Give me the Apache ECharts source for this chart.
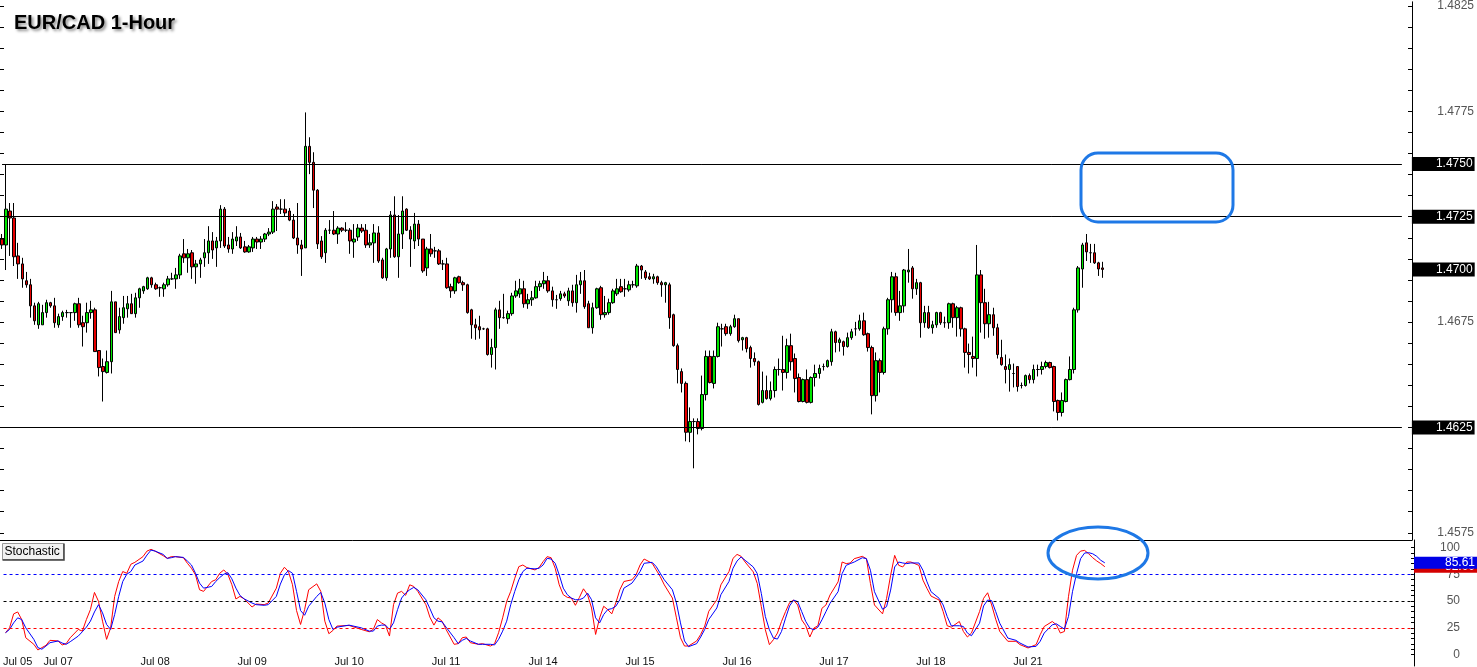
<!DOCTYPE html>
<html><head><meta charset="utf-8">
<script src="https://cdn.jsdelivr.net/npm/echarts@6/dist/echarts.min.js"></script>
<style>html,body{margin:0;padding:0;background:#fff;}#chart{width:1477px;height:667px;}</style>
</head><body><div id="chart"></div>
<script>
const opens = [
1.47144,1.47116,1.47277,1.47244,1.47064,1.47026,1.46946,1.46927,1.46827,1.46737,
1.46737,1.46795,1.46842,1.46827,1.46737,1.46776,1.46795,1.46795,1.46795,1.46837,
1.46747,1.46747,1.46795,1.46808,1.46615,1.46539,1.46511,1.46562,1.46846,1.46713,
1.46771,1.46813,1.46837,1.46790,1.46865,1.46898,1.46908,1.46960,1.46927,1.46913,
1.46908,1.46927,1.46955,1.46955,1.46974,1.47074,1.47055,1.47079,1.47012,1.47026,
1.47055,1.47079,1.47135,1.47102,1.47135,1.47286,1.47116,1.47097,1.47135,1.47154,
1.47107,1.47083,1.47102,1.47144,1.47130,1.47144,1.47168,1.47177,1.47296,1.47286,
1.47286,1.47277,1.47234,1.47149,1.47116,1.47102,1.47584,1.47508,1.47376,1.47135,
1.47079,1.47186,1.47186,1.47168,1.47196,1.47186,1.47186,1.47130,1.47154,1.47196,
1.47186,1.47116,1.47126,1.47173,1.47045,1.46960,1.47097,1.47258,1.47060,1.47168,
1.47286,1.47186,1.47135,1.47215,1.47144,1.47007,1.47097,1.47088,1.47088,1.47026,
1.47026,1.46918,1.46898,1.46965,1.46937,1.46927,1.46808,1.46737,1.46728,1.46718,
1.46718,1.46596,1.46629,1.46808,1.46771,1.46766,1.46790,1.46874,1.46884,1.46908,
1.46837,1.46856,1.46865,1.46918,1.46932,1.46946,1.46898,1.46856,1.46861,1.46884,
1.46851,1.46898,1.46842,1.46927,1.46946,1.46837,1.46723,1.46818,1.46913,1.46785,
1.46795,1.46842,1.46884,1.46918,1.46908,1.46903,1.46927,1.46922,1.47016,1.46988,
1.46965,1.46955,1.46965,1.46937,1.46927,1.46927,1.46785,1.46638,1.46515,1.46459,
1.46227,1.46278,1.46278,1.46245,1.46406,1.46587,1.46459,1.46587,1.46718,1.46728,
1.46695,1.46728,1.46766,1.46666,1.46676,1.46629,1.46577,1.46562,1.46369,1.46425,
1.46387,1.46425,1.46525,1.46525,1.46511,1.46638,1.46577,1.46487,1.46373,1.46477,
1.46369,1.46487,1.46506,1.46539,1.46539,1.46562,1.46704,1.46653,1.46657,1.46634,
1.46676,1.46718,1.46718,1.46756,1.46695,1.46629,1.46401,1.46567,1.46511,1.46718,
1.46856,1.46965,1.46795,1.46827,1.46988,1.47007,1.46908,1.46937,1.46747,1.46795,
1.46723,1.46737,1.46795,1.46747,1.46747,1.46837,1.46771,1.46818,1.46718,1.46606,
1.46587,1.46577,1.46974,1.46842,1.46742,1.46785,1.46723,1.46582,1.46539,1.46525,
1.46506,1.46539,1.46449,1.46449,1.46496,1.46477,1.46525,1.46525,1.46539,1.46558,
1.46539,1.46378,1.46321,1.46373,1.46477,1.46525,1.46808,1.47002,1.47126,1.47079,
1.47079,1.47031,1.47007];
const closes = [
1.47116,1.47286,1.47244,1.47060,1.47026,1.46955,1.46927,1.46827,1.46756,1.46837,
1.46795,1.46842,1.46827,1.46747,1.46776,1.46795,1.46795,1.46795,1.46837,1.46737,
1.46728,1.46795,1.46808,1.46610,1.46534,1.46515,1.46562,1.46846,1.46700,1.46776,
1.46818,1.46837,1.46790,1.46865,1.46908,1.46918,1.46960,1.46927,1.46908,1.46913,
1.46927,1.46955,1.46955,1.46974,1.47064,1.47055,1.47074,1.47012,1.47026,1.47045,
1.47079,1.47135,1.47092,1.47135,1.47286,1.47111,1.47097,1.47144,1.47154,1.47102,
1.47083,1.47107,1.47144,1.47130,1.47144,1.47168,1.47177,1.47286,1.47286,1.47286,
1.47268,1.47234,1.47149,1.47116,1.47097,1.47584,1.47508,1.47376,1.47121,1.47060,
1.47186,1.47186,1.47168,1.47196,1.47186,1.47186,1.47135,1.47144,1.47196,1.47182,
1.47116,1.47126,1.47173,1.47040,1.46960,1.47097,1.47258,1.47060,1.47168,1.47277,
1.47186,1.47144,1.47215,1.47144,1.46993,1.47097,1.47074,1.47088,1.47026,1.47026,
1.46913,1.46898,1.46960,1.46937,1.46927,1.46795,1.46737,1.46723,1.46713,1.46718,
1.46596,1.46629,1.46808,1.46771,1.46771,1.46790,1.46874,1.46898,1.46908,1.46837,
1.46856,1.46865,1.46918,1.46932,1.46946,1.46898,1.46856,1.46856,1.46884,1.46874,
1.46898,1.46842,1.46927,1.46946,1.46823,1.46723,1.46818,1.46908,1.46785,1.46795,
1.46842,1.46898,1.46908,1.46894,1.46908,1.46927,1.46927,1.47016,1.46997,1.46960,
1.46955,1.46965,1.46937,1.46927,1.46937,1.46771,1.46638,1.46525,1.46459,1.46227,
1.46278,1.46278,1.46245,1.46406,1.46587,1.46463,1.46587,1.46728,1.46718,1.46695,
1.46728,1.46766,1.46662,1.46676,1.46624,1.46577,1.46562,1.46359,1.46425,1.46387,
1.46425,1.46525,1.46525,1.46511,1.46638,1.46562,1.46482,1.46373,1.46477,1.46369,
1.46487,1.46506,1.46530,1.46539,1.46567,1.46704,1.46653,1.46666,1.46634,1.46676,
1.46704,1.46718,1.46756,1.46690,1.46629,1.46401,1.46567,1.46511,1.46718,1.46856,
1.46965,1.46795,1.46827,1.46997,1.46997,1.46908,1.46937,1.46747,1.46795,1.46723,
1.46737,1.46795,1.46747,1.46747,1.46837,1.46771,1.46818,1.46718,1.46606,1.46596,
1.46577,1.46974,1.46842,1.46742,1.46785,1.46723,1.46596,1.46548,1.46525,1.46548,
1.46506,1.46444,1.46449,1.46496,1.46477,1.46525,1.46525,1.46539,1.46558,1.46534,
1.46373,1.46321,1.46378,1.46477,1.46525,1.46808,1.47007,1.47116,1.47083,1.47079,
1.47031,1.47002,1.47000];
const lows = [
1.47097,1.46997,1.47064,1.47016,1.46955,1.46913,1.46913,1.46771,1.46737,1.46718,
1.46737,1.46771,1.46818,1.46723,1.46723,1.46756,1.46771,1.46723,1.46756,1.46723,
1.46634,1.46700,1.46766,1.46610,1.46492,1.46373,1.46506,1.46506,1.46700,1.46695,
1.46742,1.46771,1.46790,1.46771,1.46818,1.46884,1.46903,1.46913,1.46903,1.46870,
1.46870,1.46918,1.46950,1.46908,1.46955,1.47031,1.46984,1.46955,1.46932,1.46960,
1.47012,1.47026,1.47050,1.47012,1.47102,1.47102,1.47079,1.47074,1.47111,1.47097,
1.47079,1.47079,1.47083,1.47097,1.47097,1.47130,1.47158,1.47168,1.47182,1.47263,
1.47253,1.47229,1.47144,1.47074,1.46969,1.47102,1.47452,1.47291,1.47097,1.47050,
1.47031,1.47168,1.47163,1.47121,1.47177,1.47177,1.47074,1.47055,1.47135,1.47173,
1.47102,1.47102,1.47031,1.47031,1.46955,1.46946,1.47055,1.47055,1.46960,1.47097,
1.47182,1.47012,1.47097,1.47111,1.46984,1.46969,1.47060,1.47055,1.47021,1.46997,
1.46908,1.46865,1.46884,1.46932,1.46898,1.46790,1.46671,1.46666,1.46671,1.46713,
1.46591,1.46534,1.46525,1.46718,1.46766,1.46742,1.46780,1.46865,1.46865,1.46818,
1.46813,1.46827,1.46861,1.46898,1.46908,1.46889,1.46823,1.46813,1.46851,1.46865,
1.46827,1.46823,1.46795,1.46884,1.46813,1.46723,1.46695,1.46813,1.46761,1.46771,
1.46785,1.46837,1.46874,1.46889,1.46870,1.46894,1.46913,1.46913,1.46955,1.46950,
1.46950,1.46932,1.46927,1.46870,1.46842,1.46718,1.46633,1.46459,1.46416,1.46184,
1.46180,1.46056,1.46217,1.46236,1.46378,1.46459,1.46435,1.46582,1.46634,1.46685,
1.46685,1.46723,1.46653,1.46615,1.46606,1.46534,1.46543,1.46354,1.46364,1.46382,
1.46378,1.46392,1.46496,1.46425,1.46482,1.46520,1.46416,1.46369,1.46369,1.46364,
1.46364,1.46444,1.46482,1.46520,1.46534,1.46543,1.46606,1.46610,1.46591,1.46629,
1.46666,1.46685,1.46709,1.46685,1.46610,1.46312,1.46373,1.46416,1.46501,1.46690,
1.46795,1.46780,1.46756,1.46795,1.46937,1.46861,1.46879,1.46676,1.46723,1.46718,
1.46695,1.46723,1.46737,1.46723,1.46718,1.46723,1.46681,1.46681,1.46534,1.46506,
1.46534,1.46492,1.46700,1.46671,1.46676,1.46685,1.46577,1.46543,1.46459,1.46420,
1.46440,1.46420,1.46435,1.46444,1.46459,1.46459,1.46492,1.46501,1.46530,1.46530,
1.46326,1.46283,1.46302,1.46369,1.46473,1.46506,1.46795,1.46913,1.47040,1.47031,
1.47026,1.46969,1.46960];
const highs = [
1.47168,1.47499,1.47315,1.47315,1.47126,1.47055,1.46988,1.46955,1.46842,1.46846,
1.46832,1.46856,1.46846,1.46865,1.46790,1.46804,1.46808,1.46795,1.46842,1.46865,
1.46780,1.46842,1.46851,1.46818,1.46615,1.46577,1.46615,1.46898,1.46846,1.46818,
1.46874,1.46874,1.46884,1.46889,1.46913,1.46922,1.46965,1.46965,1.46937,1.46918,
1.46937,1.46969,1.46984,1.47007,1.47074,1.47144,1.47097,1.47092,1.47045,1.47055,
1.47144,1.47205,1.47177,1.47154,1.47305,1.47296,1.47154,1.47177,1.47205,1.47173,
1.47135,1.47116,1.47154,1.47154,1.47158,1.47173,1.47196,1.47324,1.47310,1.47333,
1.47333,1.47291,1.47263,1.47315,1.47140,1.47745,1.47627,1.47556,1.47381,1.47158,
1.47196,1.47234,1.47277,1.47205,1.47200,1.47224,1.47196,1.47215,1.47215,1.47215,
1.47215,1.47168,1.47215,1.47205,1.47055,1.47102,1.47277,1.47347,1.47258,1.47347,
1.47290,1.47205,1.47268,1.47234,1.47144,1.47107,1.47168,1.47107,1.47097,1.47045,
1.47055,1.46932,1.46965,1.46970,1.46946,1.46932,1.46813,1.46766,1.46780,1.46723,
1.46723,1.46671,1.46818,1.46851,1.46884,1.46804,1.46889,1.46946,1.46955,1.46946,
1.46884,1.46898,1.46946,1.46946,1.46988,1.46969,1.46918,1.46879,1.46898,1.46894,
1.46913,1.46927,1.46974,1.46988,1.46997,1.46851,1.46842,1.46913,1.46922,1.46874,
1.46861,1.46908,1.46955,1.46955,1.46955,1.46946,1.46946,1.47026,1.47021,1.46997,
1.46984,1.46979,1.46970,1.46946,1.46941,1.46937,1.46790,1.46648,1.46530,1.46468,
1.46345,1.46293,1.46293,1.46496,1.46615,1.46615,1.46615,1.46747,1.46742,1.46742,
1.46737,1.46785,1.46766,1.46680,1.46680,1.46638,1.46606,1.46567,1.46515,1.46496,
1.46468,1.46539,1.46577,1.46685,1.46671,1.46695,1.46601,1.46506,1.46482,1.46525,
1.46492,1.46548,1.46548,1.46553,1.46572,1.46718,1.46709,1.46676,1.46662,1.46700,
1.46718,1.46751,1.46785,1.46795,1.46700,1.46638,1.46606,1.46577,1.46728,1.46865,
1.46988,1.46984,1.46898,1.47002,1.47097,1.47016,1.46955,1.46941,1.46827,1.46827,
1.46756,1.46799,1.46799,1.46776,1.46842,1.46842,1.46827,1.46823,1.46723,1.46648,
1.46681,1.47116,1.46997,1.46908,1.46846,1.46818,1.46742,1.46666,1.46596,1.46577,
1.46553,1.46539,1.46463,1.46501,1.46506,1.46548,1.46548,1.46562,1.46567,1.46562,
1.46543,1.46382,1.46416,1.46482,1.46587,1.46818,1.47016,1.47126,1.47168,1.47121,
1.47121,1.47036,1.47036];

// Stochastic %K (red) and %D (blue), as [candle index, value]
const stochK = [[0,20.4],[1,25.0],[2,38.0],[3,39.8],[4,32.7],[5,15.7],[7,9.6],[8,4.3],[9,6.5],[10,8.6],[11,13.3],[13,12.7],[14,9.0],[15,10.2],[16,15.7],[18,23.5],[19,21.9],[20,32.7],[21,42.0],[22,58.0],[23,49.7],[24,31.2],[25,14.2],[26,25.0],[27,54.3],[28,68.2],[29,77.5],[30,75.9],[31,84.3],[32,86.1],[34,91.4],[35,96.6],[36,98.2],[37,96.6],[39,92.3],[40,89.8],[41,91.4],[42,91.4],[44,90.4],[45,85.2],[46,80.6],[47,74.4],[48,60.5],[49,59.0],[51,68.2],[52,69.8],[53,75.9],[54,79.0],[55,75.0],[56,65.2],[57,51.9],[58,54.3],[59,52.1],[61,44.4],[62,47.2],[64,46.6],[65,48.1],[67,62.0],[68,75.9],[69,81.5],[70,77.5],[71,65.2],[72,41.1],[73,28.1],[74,42.0],[75,60.5],[77,66.0],[78,59.0],[79,31.2],[80,19.5],[81,22.5],[82,26.6],[85,27.2],[88,23.5],[90,21.3],[91,23.5],[92,32.7],[93,29.6],[94,27.5],[95,17.3],[96,46.6],[97,57.4],[98,59.0],[99,55.3],[100,65.1],[101,63.6],[102,59.0],[104,46.6],[105,34.9],[106,27.5],[107,34.3],[108,31.2],[109,23.5],[111,9.6],[112,10.2],[113,15.7],[114,16.4],[115,11.1],[117,9.6],[118,10.2],[120,8.0],[121,10.2],[122,20.4],[123,34.3],[124,49.7],[125,59.0],[126,71.3],[127,82.1],[128,83.6],[129,81.2],[131,79.0],[132,81.2],[133,86.7],[134,91.4],[135,90.4],[136,80.6],[137,65.1],[138,55.9],[139,53.4],[140,52.8],[141,46.0],[142,53.4],[143,61.4],[144,55.9],[145,43.5],[146,18.8],[147,34.3],[148,45.1],[149,42.0],[150,38.0],[151,48.2],[152,60.5],[153,68.2],[155,69.8],[156,74.4],[157,83.6],[158,89.2],[160,85.2],[161,79.0],[162,72.8],[163,65.1],[165,52.8],[166,34.3],[167,15.7],[168,8.0],[169,8.0],[171,12.7],[172,18.8],[173,26.6],[174,40.4],[176,51.2],[177,65.1],[179,77.5],[180,89.8],[181,93.5],[182,91.7],[183,86.4],[185,77.2],[186,66.4],[187,44.8],[188,23.2],[189,9.3],[190,13.9],[191,20.1],[192,30.9],[193,40.1],[194,48.5],[195,50.9],[196,46.3],[197,32.4],[198,26.9],[199,16.4],[200,24.7],[201,26.9],[202,43.2],[203,46.3],[204,55.6],[206,67.9],[207,86.4],[208,84.9],[209,85.5],[210,89.5],[212,91.7],[213,89.5],[214,66.4],[215,46.3],[217,38.0],[218,52.5],[219,74.1],[220,92.6],[221,83.3],[222,81.8],[223,86.4],[224,86.4],[226,83.3],[227,69.5],[228,61.7],[229,54.6],[231,50.9],[232,40.1],[233,26.9],[234,25.6],[236,30.9],[237,21.6],[238,16.4],[239,20.1],[241,40.1],[242,52.5],[243,57.7],[244,46.3],[245,33.0],[246,21.6],[248,12.4],[250,12.4],[251,9.3],[253,6.2],[255,9.3],[256,18.5],[257,26.2],[259,30.9],[260,27.8],[261,20.1],[262,21.6],[263,54.0],[264,78.7],[265,92.6],[266,96.6],[267,97.2],[268,94.1],[269,90.4],[270,87.4],[271,84.9],[272,82.0]];
const stochD = [[0,20.4],[1,23.5],[2,29.6],[3,34.3],[4,32.7],[5,25.0],[7,14.2],[8,6.5],[9,5.0],[10,8.0],[11,11.1],[13,12.7],[14,10.8],[15,9.6],[16,12.0],[18,17.3],[19,21.3],[20,25.6],[21,31.2],[22,39.8],[23,46.6],[24,38.9],[25,28.1],[26,23.5],[27,37.4],[28,54.3],[29,68.2],[30,75.0],[31,77.5],[32,83.6],[34,87.3],[35,92.9],[36,97.5],[37,96.6],[39,93.5],[40,89.8],[41,90.4],[42,91.4],[44,90.7],[45,87.3],[46,83.6],[47,75.9],[48,66.7],[49,62.0],[51,63.6],[52,68.2],[53,71.9],[54,75.0],[55,76.5],[56,70.7],[57,62.0],[58,55.2],[59,52.1],[61,48.1],[62,46.6],[64,46.0],[65,46.6],[67,54.3],[68,65.8],[69,74.4],[70,78.4],[71,75.9],[72,59.0],[73,41.1],[74,36.7],[75,45.1],[77,54.3],[78,58.0],[79,48.1],[80,32.7],[81,23.5],[82,25.6],[85,27.5],[88,25.0],[90,21.9],[91,21.9],[92,26.6],[93,27.5],[94,27.5],[95,23.5],[96,29.6],[97,42.0],[98,52.8],[99,57.4],[100,60.5],[101,62.7],[102,60.5],[104,51.2],[105,42.9],[106,34.3],[107,31.2],[108,30.6],[109,25.6],[111,15.7],[112,10.2],[113,13.3],[114,15.1],[115,12.7],[117,9.6],[118,9.6],[120,9.6],[121,9.0],[122,14.2],[123,21.9],[124,31.2],[125,46.6],[126,59.0],[127,69.8],[128,77.5],[129,80.6],[131,80.0],[132,80.6],[133,83.6],[134,89.8],[135,89.2],[136,85.2],[137,74.4],[138,62.0],[139,55.9],[140,52.8],[141,51.2],[142,51.2],[143,52.8],[144,57.4],[145,51.2],[146,34.3],[147,29.6],[148,37.4],[149,42.0],[150,42.9],[151,45.1],[152,51.2],[153,62.0],[155,66.7],[156,71.9],[157,77.5],[158,85.2],[160,86.1],[161,82.1],[162,75.9],[163,69.8],[165,60.5],[166,48.2],[167,29.6],[168,12.7],[169,7.4],[171,10.2],[172,16.4],[173,23.5],[174,32.7],[176,43.5],[177,55.9],[179,68.2],[180,80.6],[181,87.3],[182,91.1],[183,88.0],[185,81.8],[186,75.6],[187,57.1],[188,35.5],[189,23.2],[190,15.4],[191,14.5],[192,21.6],[193,34.0],[194,45.4],[195,50.9],[196,49.4],[197,40.1],[198,30.9],[199,24.7],[200,23.2],[201,25.6],[202,32.4],[203,40.1],[204,47.8],[206,58.7],[207,75.6],[208,83.3],[209,84.9],[210,86.4],[212,90.4],[213,89.5],[214,78.7],[215,58.7],[217,42.3],[218,44.8],[219,60.2],[220,81.8],[221,86.4],[222,85.5],[223,84.9],[224,85.5],[226,85.5],[227,78.7],[228,67.9],[229,58.7],[231,52.5],[232,46.3],[233,35.5],[234,26.9],[236,26.9],[237,26.2],[238,20.1],[239,17.6],[241,29.3],[242,45.4],[243,50.9],[244,50.3],[245,40.1],[246,29.3],[248,15.4],[250,13.3],[251,10.8],[253,7.1],[255,7.7],[256,12.4],[257,20.1],[259,27.8],[260,28.7],[261,26.2],[262,23.8],[263,35.5],[264,58.7],[265,75.6],[266,89.5],[267,94.8],[268,95.1],[269,94.1],[270,91.7],[271,88.0],[272,85.61]];

const dayLabels = ['Jul 05','Jul 07','Jul 08','Jul 09','Jul 10','Jul 11','Jul 14','Jul 15','Jul 16','Jul 17','Jul 18','Jul 21'];
const dayLabelIdx = [3,13,37,61,85,109,133,157,181,205,229,253];
const levels = [1.4750, 1.4725, 1.4625];
const priceLabels = [1.4575, 1.4625, 1.4675, 1.4725, 1.4775, 1.4825];
const stochLevels = [75, 50, 25];
const stochLabels = [0, 25, 50, 75, 100];

const FONT = "'Liberation Sans', Arial, sans-serif";
const TRANSPARENT = 'rgba(0,0,0,0)';
const TOTAL_SLOTS = 349;
const LEVEL_END_SLOT = 346;
const categories = new Array(TOTAL_SLOTS).fill('');
dayLabelIdx.forEach((ix, k) => { categories[ix] = dayLabels[k]; });
const priceTicks = [];
for (let k = 0; k <= 25; k++) priceTicks.push(+(1.4575 + k * 0.001).toFixed(4));
const stochTicks = [];
for (let k = 0; k <= 20; k++) stochTicks.push(k * 5);

const candles = opens.map((o, i) => [o, closes[i], lows[i], highs[i]]);
const lastClose = closes[closes.length - 1];
const lastK = stochK[stochK.length - 1][1];
const lastD = stochD[stochD.length - 1][1];

const boxLabel = (bg, padLeft, lh, dist) => ({
  show: true, position: 'end', distance: dist || 0, backgroundColor: bg, color: '#fff', opacity: 1,
  fontSize: 12, fontFamily: FONT, lineHeight: lh, padding: [0, 2, 0, padLeft],
  formatter: p => p.name
});

const chart = echarts.init(document.getElementById('chart'), null, {renderer: 'canvas'});
chart.setOption({
  animation: false,
  backgroundColor: '#fff',
  title: {
    text: 'EUR/CAD 1-Hour', left: 14, top: 13, padding: 0,
    textStyle: { fontFamily: FONT, fontWeight: 'bold', fontSize: 20, color: '#000',
      textShadowColor: 'rgba(0,0,0,0.45)', textShadowBlur: 3, textShadowOffsetX: 2, textShadowOffsetY: 2 }
  },
  grid: [
    { left: 0, right: 63, top: 0, height: 540 },
    { left: 0, right: 63, top: 540, height: 127 }
  ],
  xAxis: [
    { type: 'category', gridIndex: 0, data: categories, boundaryGap: true,
      axisLine: { show: true, lineStyle: { color: '#000', width: 1 } },
      axisTick: { show: false }, axisLabel: { show: false }, splitLine: { show: false } },
    { type: 'category', gridIndex: 1, data: categories, boundaryGap: true,
      axisLine: { show: false }, axisTick: { show: false }, splitLine: { show: false },
      axisLabel: { inside: true, margin: -1, interval: (i, v) => v !== '', color: '#111',
        fontSize: 11, fontFamily: FONT } }
  ],
  yAxis: [
    { type: 'value', gridIndex: 0, position: 'right', min: 1.457158, max: 1.4827,
      axisLine: { show: true, lineStyle: { color: '#000' } },
      axisTick: { show: true, inside: true, length: 4, customValues: priceTicks, lineStyle: { color: '#000' } },
      axisLabel: { customValues: priceLabels, formatter: v => v.toFixed(4), color: '#555',
        fontSize: 12, fontFamily: FONT, align: 'right', margin: 62 },
      splitLine: { show: false } },
    { type: 'value', gridIndex: 0, position: 'left', min: 1.457158, max: 1.4827,
      axisLine: { show: false },
      axisTick: { show: true, inside: true, length: 4, customValues: priceTicks, lineStyle: { color: '#000' } },
      axisLabel: { show: false }, splitLine: { show: false } },
    { type: 'value', gridIndex: 1, position: 'right', min: -10.65, max: 106.94,
      axisLine: { show: true, lineStyle: { color: '#000' } },
      axisTick: { show: true, inside: true, length: 3, customValues: stochTicks, lineStyle: { color: '#000' } },
      axisLabel: { customValues: stochLabels, color: '#555', fontSize: 12, fontFamily: FONT,
        align: 'right', margin: 46 },
      splitLine: { show: false } }
  ],
  series: [
    { type: 'candlestick', xAxisIndex: 0, yAxisIndex: 0, data: candles, barWidth: 3,
      itemStyle: { color: '#00e600', color0: '#e60000', borderColor: '#000', borderColor0: '#000',
        borderColorDoji: '#000', borderWidth: 1 },
      markLine: { symbol: ['none', 'none'], silent: true, animation: false, precision: 5,
        lineStyle: { color: '#000', width: 1, type: 'solid' },
        label: boxLabel('#000', 24, 14, 10),
        emphasis: { disabled: true },
        data: levels.map(v => [{ name: v.toFixed(4), coord: [0, v] }, { coord: [LEVEL_END_SLOT, v] }]) } },
    { type: 'line', xAxisIndex: 0, yAxisIndex: 0, data: [], symbol: 'none',
      markLine: { symbol: ['none', 'none'], silent: true, animation: false, precision: 5,
        lineStyle: { color: TRANSPARENT, width: 1, type: 'solid' }, emphasis: { disabled: true },
        label: boxLabel('#000', 24, 14),
        data: [{ name: lastClose.toFixed(4), yAxis: lastClose }] } },
    { type: 'line', xAxisIndex: 1, yAxisIndex: 2, data: stochK, symbol: 'none',
      lineStyle: { color: '#ff0000', width: 1 }, z: 3,
      markLine: { symbol: ['none', 'none'], silent: true, animation: false, precision: 2,
        lineStyle: { width: 1, type: [3, 3] }, label: { show: false }, emphasis: { disabled: true },
        data: stochLevels.map((v, k) => ({ yAxis: v, lineStyle: { color: ['#0000ff', '#000000', '#ff0000'][k] } })) } },
    { type: 'line', xAxisIndex: 1, yAxisIndex: 2, data: stochD, symbol: 'none',
      lineStyle: { color: '#0000ff', width: 1 }, z: 4 },
    { type: 'line', xAxisIndex: 1, yAxisIndex: 2, data: [], symbol: 'none', z: 5,
      markLine: { symbol: ['none', 'none'], silent: true, animation: false, precision: 2,
        lineStyle: { color: TRANSPARENT, width: 1, type: 'solid' }, emphasis: { disabled: true },
        label: boxLabel('#d40000', 31, 12),
        data: [{ name: lastK.toFixed(2), yAxis: lastK }] } },
    { type: 'line', xAxisIndex: 1, yAxisIndex: 2, data: [], symbol: 'none', z: 6,
      markLine: { symbol: ['none', 'none'], silent: true, animation: false, precision: 2,
        lineStyle: { color: TRANSPARENT, width: 1, type: 'solid' }, emphasis: { disabled: true },
        label: boxLabel('#0000e6', 31, 12),
        data: [{ name: lastD.toFixed(2), yAxis: lastD }] } }
  ],
  graphic: [
    { type: 'group', left: 0, top: 541, z: 100, children: [
      { type: 'rect', shape: { x: 0, y: 0, width: 61, height: 16 },
        style: { fill: '#f2f2f2', stroke: '#9a9a9a', lineWidth: 1 } },
      { type: 'polyline', shape: { points: [[61.5, 0], [61.5, 16.5], [0, 16.5]] },
        style: { stroke: '#404040', lineWidth: 1.5, fill: null } },
      { type: 'text', x: 2, y: 8, style: { text: 'Stochastic', font: '12px ' + FONT,
        fill: '#000', verticalAlign: 'middle' } }
    ] },
    { type: 'rect', z: 100, shape: { x: 1081, y: 153, width: 152, height: 69, r: 17 },
      style: { fill: null, stroke: '#1e78e6', lineWidth: 3 } },
    { type: 'ellipse', z: 100, shape: { cx: 1098, cy: 553, rx: 50, ry: 26 },
      style: { fill: null, stroke: '#1e78e6', lineWidth: 3 } }
  ]
});
</script>
</body></html>
